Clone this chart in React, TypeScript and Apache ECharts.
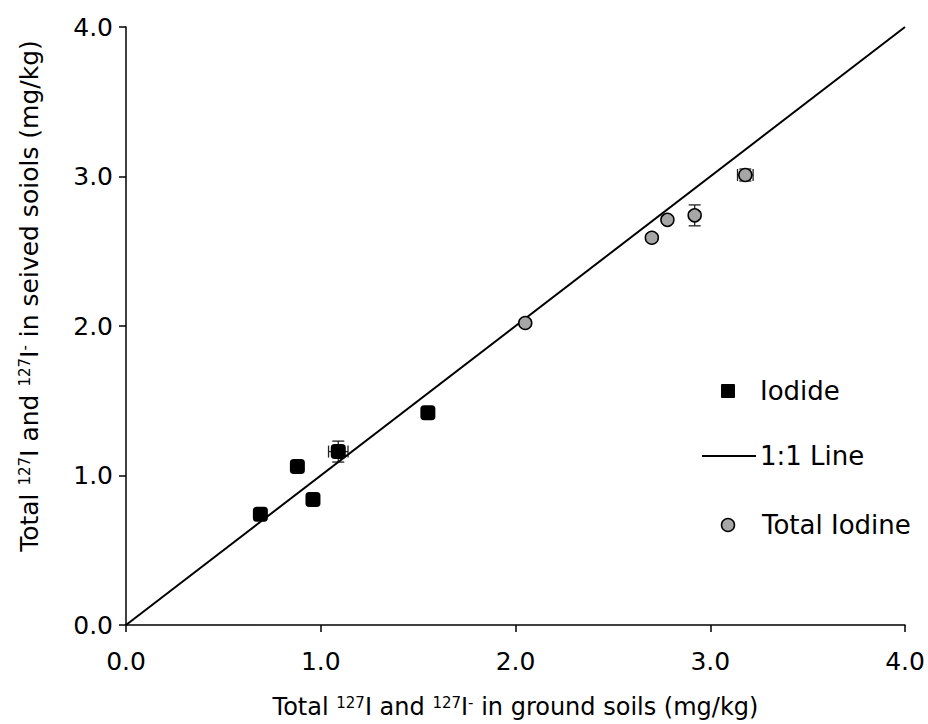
import React, { useEffect, useRef } from "react";
import * as echarts from "echarts";

// Iodide (127I-) : ground soils (x) vs seived soils (y), mg/kg
const iodideX = [0.69, 0.88, 0.96, 1.09, 1.55];
const iodideY = [0.74, 1.06, 0.84, 1.16, 1.42];
const iodideXErr = [0, 0, 0, 0.05, 0];
const iodideYErr = [0, 0, 0, 0.07, 0];

// Total iodine (127I)
const totalX = [2.05, 2.7, 2.78, 2.92, 3.18];
const totalY = [2.02, 2.59, 2.71, 2.74, 3.01];
const totalXErr = [0, 0, 0, 0, 0.04];
const totalYErr = [0, 0, 0, 0.07, 0.04];

// 1:1 reference line
const oneToOneX = [0, 4];
const oneToOneY = [0, 4];

const axisMin = 0;
const axisMax = 4;
const axisStep = 1;

const seriesNames = ["Iodide", "1:1 Line", "Total Iodine"];
const xTitle = "Total {sup|127}I and {sup|127}I{sup|-} in ground soils (mg/kg)";
const yTitle = "Total {sup|127}I and {sup|127}I{sup|-} in seived soiols (mg/kg)";

const FONT = "DejaVu Sans";

function errRows(xs: number[], ys: number[], xe: number[], ye: number[]) {
  return xs
    .map((x, i) => [x, ys[i], xe[i], ye[i]])
    .filter((r) => r[2] > 0 || r[3] > 0);
}

export default function App() {
  const ref = useRef<HTMLDivElement>(null);
  useEffect(() => {
    if (!ref.current) return;
    const chart = echarts.init(ref.current, null, { renderer: "svg" });

    const cap = 6;
    const renderErr = (params: any, api: any) => {
      const x = api.value(0);
      const y = api.value(1);
      const ex = api.value(2);
      const ey = api.value(3);
      const children: any[] = [];
      const st = { stroke: "#222", lineWidth: 1.3 };
      if (ey > 0) {
        const t = api.coord([x, y + ey]);
        const b = api.coord([x, y - ey]);
        children.push({ type: "line", shape: { x1: t[0], y1: t[1], x2: b[0], y2: b[1] }, style: st });
        children.push({ type: "line", shape: { x1: t[0] - cap, y1: t[1], x2: t[0] + cap, y2: t[1] }, style: st });
        children.push({ type: "line", shape: { x1: b[0] - cap, y1: b[1], x2: b[0] + cap, y2: b[1] }, style: st });
      }
      if (ex > 0) {
        const l = api.coord([x - ex, y]);
        const r = api.coord([x + ex, y]);
        children.push({ type: "line", shape: { x1: l[0], y1: l[1], x2: r[0], y2: r[1] }, style: st });
        children.push({ type: "line", shape: { x1: l[0], y1: l[1] - cap, x2: l[0], y2: l[1] + cap }, style: st });
        children.push({ type: "line", shape: { x1: r[0], y1: r[1] - cap, x2: r[0], y2: r[1] + cap }, style: st });
      }
      return { type: "group", children };
    };

    const axisCommon = {
      type: "value",
      min: axisMin,
      max: axisMax,
      interval: axisStep,
      splitLine: { show: false },
      axisLine: { show: true, onZero: false, lineStyle: { color: "#000", width: 1.5 } },
      axisTick: { show: true, inside: false, length: 7, lineStyle: { color: "#000", width: 1.5 } },
      nameLocation: "middle",
    };
    const supStyle = { fontFamily: FONT, fontSize: 15, verticalAlign: "top", color: "#000" };

    chart.setOption({
      animation: false,
      backgroundColor: "#fff",
      grid: {
        left: 126,
        top: 27,
        right: 23,
        bottom: 99,
        containLabel: false,
        outerBoundsMode: "none",
      },
      xAxis: {
        ...axisCommon,
        name: xTitle,
        nameGap: 70,
        nameTextStyle: { fontFamily: FONT, fontSize: 24, color: "#000", rich: { sup: supStyle } },
        axisLabel: {
          margin: 24,
          fontFamily: FONT,
          fontSize: 25,
          color: "#000",
          formatter: (v: number) => v.toFixed(1),
        },
      },
      yAxis: {
        ...axisCommon,
        name: yTitle,
        nameGap: 84,
        nameTextStyle: {
          fontFamily: FONT,
          fontSize: 25,
          color: "#000",
          padding: [0, 0, 0, 60],
          rich: { sup: supStyle },
        },
        axisLabel: {
          margin: 13,
          fontFamily: FONT,
          fontSize: 25,
          color: "#000",
          formatter: (v: number) => v.toFixed(1),
        },
      },
      series: [
        {
          type: "custom",
          name: "errIodide",
          renderItem: renderErr,
          data: errRows(iodideX, iodideY, iodideXErr, iodideYErr),
          encode: { x: 0, y: 1 },
          z: 1,
          silent: true,
        },
        {
          type: "custom",
          name: "errTotal",
          renderItem: renderErr,
          data: errRows(totalX, totalY, totalXErr, totalYErr),
          encode: { x: 0, y: 1 },
          z: 1,
          silent: true,
        },
        {
          type: "line",
          name: seriesNames[1],
          data: oneToOneX.map((x, i) => [x, oneToOneY[i]]),
          symbol: "none",
          lineStyle: { color: "#000", width: 2 },
          z: 2,
        },
        {
          type: "scatter",
          name: seriesNames[0],
          data: iodideX.map((x, i) => [x, iodideY[i]]),
          symbol: "roundRect",
          symbolSize: 15,
          itemStyle: { color: "#000", opacity: 1 },
          z: 3,
        },
        {
          type: "scatter",
          name: seriesNames[2],
          data: totalX.map((x, i) => [x, totalY[i]]),
          symbol: "circle",
          symbolSize: 13,
          itemStyle: { color: "#a6a6a6", borderColor: "#000", borderWidth: 1.5, opacity: 1 },
          z: 3,
        },
      ],
      graphic: [
        { type: "rect", shape: { x: 721, y: 384, width: 14, height: 14, r: 1 }, style: { fill: "#000" } },
        { type: "text", x: 760, y: 391, style: { text: seriesNames[0], fontFamily: FONT, fontSize: 26, fill: "#000", verticalAlign: "middle" } },
        { type: "line", shape: { x1: 702, y1: 456, x2: 756, y2: 456 }, style: { stroke: "#000", lineWidth: 2 } },
        { type: "text", x: 760, y: 456, style: { text: seriesNames[1], fontFamily: FONT, fontSize: 26, fill: "#000", verticalAlign: "middle" } },
        { type: "circle", shape: { cx: 728, cy: 525, r: 6.5 }, style: { fill: "#a6a6a6", stroke: "#000", lineWidth: 1.5 } },
        { type: "text", x: 762, y: 525, style: { text: seriesNames[2], fontFamily: FONT, fontSize: 26, fill: "#000", verticalAlign: "middle" } },
      ],
    });
    return () => chart.dispose();
  }, []);
  return <div ref={ref} style={{ position: "absolute", left: 0, top: 0, width: 928, height: 724 }} />;
}
